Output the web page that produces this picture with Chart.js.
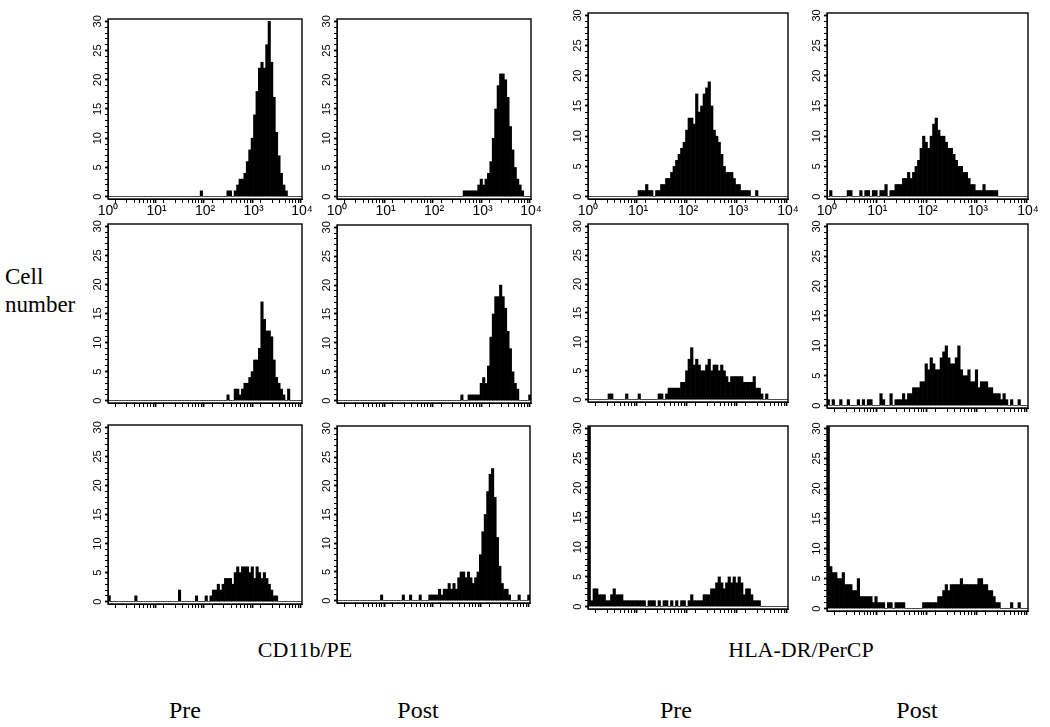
<!DOCTYPE html>
<html><head><meta charset="utf-8">
<script src="https://cdn.jsdelivr.net/npm/chart.js@4/dist/chart.umd.min.js"></script>
<style>
html,body{margin:0;padding:0;background:#fff;}
body{width:1050px;height:727px;position:relative;overflow:hidden;}
canvas{position:absolute;}
.lbl{position:absolute;font-family:"Liberation Serif","Times New Roman",serif;color:#000;white-space:nowrap;font-size:22px;line-height:26px;}
.c{transform:translate(-50%,-50%);}
.big{font-size:24px;}
</style></head><body>
<div class="lbl" style="left:5px;top:263px;font-size:23px;line-height:28px">Cell<br>number</div>
<div class="lbl c" style="left:305px;top:650px;">CD11b/PE</div>
<div class="lbl c" style="left:801px;top:650px;">HLA-DR/PerCP</div>
<div class="lbl c big" style="left:185px;top:710px;">Pre</div>
<div class="lbl c big" style="left:418px;top:710px;">Post</div>
<div class="lbl c big" style="left:676px;top:710px;">Pre</div>
<div class="lbl c big" style="left:917px;top:710px;">Post</div>
<script>
// ---- data: cell counts per log-channel bin (80 bins, 0.05 decade each, 10^0..10^4) ----
const binLabels = Array.from({length: 80}, (_, i) => String(i));

const cd11bPreRow1 = [
 0,0,0,0,0,0,0,0,0,0, 0,0,0,0,0,0,0,0,0,0, 0,0,0,0,0,0,0,0,0,0, 0,0,0,0,0,0,0,0,1,0,
 0,0,0,0,0,0,0,0,0,1, 1,0,1,2,3,3,4,6,8,10, 14,18,22,23,22,26,30,23,17,11, 7,4,2,1,0,0,0,0,0,0];
const cd11bPostRow1 = [
 0,0,0,0,0,0,0,0,0,0, 0,0,0,0,0,0,0,0,0,0, 0,0,0,0,0,0,0,0,0,0, 0,0,0,0,0,0,0,0,0,0,
 0,0,0,0,0,0,0,0,0,0, 0,0,1,1,1,1,1,1,2,3, 2,3,4,6,10,15,19,21,21,20, 17,12,8,5,3,2,1,0,0,0];
const hladrPreRow1 = [
 0,0,0,0,0,0,0,0,0,0, 0,0,0,0,0,0,0,0,0,0, 1,1,1,2,1,1,0,1,1,2, 2,3,3,4,5,6,7,8,9,11,
 13,13,12,17,14,15,17,18,19,15, 11,10,9,7,5,4,4,4,3,2, 2,1,1,1,1,0,0,1,0,0, 0,0,0,0,0,0,0,0,0,0];
const hladrPostRow1 = [
 0,1,0,0,0,0,0,0,1,1, 0,0,0,1,0,1,1,0,1,1, 0,1,1,2,0,1,1,2,2,2, 3,3,4,3,4,5,6,8,10,9,
 8,10,12,13,11,10,10,9,8,8, 7,6,5,5,4,4,3,2,2,1, 1,1,2,1,1,1,1,1,0,0, 0,0,0,0,0,0,0,0,0,0];

const cd11bPreRow2 = [
 0,0,0,0,0,0,0,0,0,0, 0,0,0,0,0,0,0,0,0,0, 0,0,0,0,0,0,0,0,0,0, 0,0,0,0,0,0,0,0,0,0,
 0,0,0,0,0,0,0,0,0,1, 0,0,2,2,1,2,3,3,4,5, 7,7,9,17,14,12,12,11,7,4, 3,2,1,0,2,0,0,0,0,0];
const cd11bPostRow2 = [
 0,0,0,0,0,0,0,0,0,0, 0,0,0,0,0,0,0,0,0,0, 0,0,0,0,0,0,0,0,0,0, 0,0,0,0,0,0,0,0,0,0,
 0,0,0,0,0,0,0,0,0,0, 0,1,0,0,1,1,1,1,1,3, 4,3,6,11,15,18,18,20,18,16, 12,9,5,3,2,0,0,0,0,1];
const hladrPreRow2 = [
 0,0,0,0,0,0,0,0,1,1, 0,0,0,0,0,1,0,0,0,0, 1,0,0,0,0,0,0,0,1,1, 0,1,2,2,2,2,2,3,3,5,
 7,9,6,7,6,5,5,6,7,5, 6,6,5,6,5,4,3,4,4,4, 4,4,3,3,3,3,4,2,2,1, 0,1,0,0,0,0,0,0,0,0];
const hladrPostRow2 = [
 1,0,1,0,0,1,0,0,1,0, 0,0,1,0,1,0,1,1,0,0, 0,2,1,0,0,2,0,1,1,1, 2,1,2,2,3,3,3,4,4,7,
 6,8,7,6,6,8,9,10,8,7, 7,8,10,6,5,5,6,4,4,6, 3,4,4,4,3,3,2,2,2,1, 2,1,0,1,0,0,1,0,0,0];

const cd11bPreRow3 = [
 1,0,0,0,0,0,0,0,0,0, 0,1,0,0,0,0,0,0,0,0, 0,0,0,0,0,0,0,0,0,2, 0,0,0,0,0,0,1,0,0,0,
 1,0,1,2,2,3,2,3,4,4, 4,3,5,6,5,6,6,6,5,6, 4,6,5,4,5,4,3,2,1,1, 0,0,0,0,0,0,0,0,0,0];
const cd11bPostRow3 = [
 0,0,0,0,0,0,0,0,0,0, 0,0,0,0,0,0,0,0,1,0, 0,0,0,0,0,0,0,1,0,0, 1,0,0,0,1,0,0,0,1,1,
 1,1,2,1,2,2,3,2,3,2, 4,5,5,4,5,4,3,4,5,8, 12,15,19,22,23,18,11,6,3,2, 2,1,0,0,0,1,0,0,0,1];
const hladrPreRow3 = [
 31,1,3,3,2,2,2,1,1,2, 3,2,2,2,1,1,1,1,1,1, 1,1,1,0,1,1,1,0,1,0, 1,1,0,1,0,1,0,1,1,0,
 1,2,1,1,1,1,2,2,2,3, 3,4,5,4,3,4,5,4,5,4, 5,4,2,3,3,2,1,1,1,0, 0,0,0,0,0,0,0,0,0,0];
const hladrPostRow3 = [
 31,7,6,6,5,5,6,4,4,4, 3,3,5,2,2,2,2,2,1,2, 1,1,1,0,1,1,0,1,1,1, 1,0,0,0,0,0,0,0,1,1,
 1,1,1,1,2,2,3,4,3,4, 4,4,4,5,4,4,4,4,4,4, 5,5,4,4,3,3,2,1,1,0, 0,0,0,1,0,0,1,0,0,0];

// ---- tick labels ----
const xTickValues = [1,2,3,4,5,6,7,8,9,10,20,30,40,50,60,70,80,90,100,200,300,400,500,600,700,800,900,
                     1000,2000,3000,4000,5000,6000,7000,8000,9000,10000];
const xDecadeLabels = {1:'10⁰', 10:'10¹', 100:'10²', 1000:'10³', 10000:'10⁴'};
const yTickValues = [0,1,2,3,4,5,6,7,8,9,10,11,12,13,14,15,16,17,18,19,20,21,22,23,24,25,26,27,28,29,30];
const yLabelValues = [0,5,10,15,20,25,30];

// ---- layout (frame boxes in page pixels: left, top, right, bottom) ----
const panels = [
  {data: cd11bPreRow1,  frame: [108, 19, 302, 199], xlabels: true},
  {data: cd11bPostRow1, frame: [337, 19, 531, 199], xlabels: true},
  {data: hladrPreRow1,  frame: [588, 13, 788, 199], xlabels: true},
  {data: hladrPostRow1, frame: [827, 13, 1028, 199], xlabels: true},
  {data: cd11bPreRow2,  frame: [108, 224, 302, 403], xlabels: false},
  {data: cd11bPostRow2, frame: [337, 225, 531, 403], xlabels: false},
  {data: hladrPreRow2,  frame: [588, 224, 788, 402], xlabels: false},
  {data: hladrPostRow2, frame: [827, 224, 1028, 408], xlabels: false},
  {data: cd11bPreRow3,  frame: [108, 425, 302, 604], xlabels: false},
  {data: cd11bPostRow3, frame: [337, 426, 530, 603], xlabels: false},
  {data: hladrPreRow3,  frame: [588, 426, 788, 609], xlabels: false},
  {data: hladrPostRow3, frame: [827, 426, 1028, 611], xlabels: false},
];

const PADL = 30, PADR = 14, PADT = 8, XH = 22;
const AXFONT = "'Liberation Sans', Arial, sans-serif";

const framePlugin = {
  id: 'frame',
  afterDraw(chart) {
    const a = chart.chartArea, c = chart.ctx;
    c.save();
    c.strokeStyle = '#000';
    c.lineWidth = 1.4;
    c.strokeRect(a.left, a.top, a.right - a.left, a.bottom - a.top);
    c.restore();
  }
};

panels.forEach(p => {
  const [l, t, r, b] = p.frame;
  const cv = document.createElement('canvas');
  const w = (r - l) + PADL + PADR, h = (b - t) + PADT + XH;
  cv.width = w; cv.height = h;
  cv.style.left = (l - PADL) + 'px';
  cv.style.top = (t - PADT) + 'px';
  cv.style.width = w + 'px'; cv.style.height = h + 'px';
  document.body.appendChild(cv);
  new Chart(cv, {
    type: 'bar',
    data: {
      labels: binLabels,
      datasets: [{
        data: p.data, backgroundColor: '#000', borderWidth: 0,
        barPercentage: 1, categoryPercentage: 1, xAxisID: 'x', yAxisID: 'y'
      }]
    },
    options: {
      responsive: false, animation: false, devicePixelRatio: 1, events: [],
      layout: {padding: {left: 0, right: PADR, top: PADT, bottom: 0}},
      plugins: {legend: {display: false}, tooltip: {enabled: false}},
      scales: {
        x: {type: 'category', display: false, offset: true},
        xl: {
          type: 'logarithmic', position: 'bottom', min: 1, max: 10000,
          afterBuildTicks: s => { s.ticks = xTickValues.map(v => ({value: v, major: v in xDecadeLabels})); },
          afterFit: s => { s.height = XH; s.paddingLeft = 0; s.paddingRight = 0; },
          grid: {drawOnChartArea: false, drawTicks: true, tickLength: 4, color: '#000',
                 tickWidth: c => (c.tick && c.tick.major) ? 1.8 : 1},
          border: {display: true, color: '#000', width: 1},
          ticks: {display: p.xlabels, autoSkip: false, maxRotation: 0, minRotation: 0, padding: 0,
                  color: '#000', font: {family: AXFONT, size: 14},
                  callback: v => xDecadeLabels[v] || ''}
        },
        y: {
          type: 'linear', position: 'left', min: -0.4, max: 30.4,
          afterBuildTicks: s => { s.ticks = yTickValues.map(v => ({value: v, major: yLabelValues.includes(v)})); },
          afterFit: s => { s.width = PADL; s.paddingTop = 0; s.paddingBottom = 0; },
          grid: {drawOnChartArea: false, drawTicks: true, tickLength: 3, color: '#000',
                 tickWidth: c => (c.tick && c.tick.major) ? 1.8 : 1},
          border: {display: true, color: '#000', width: 1},
          ticks: {autoSkip: false, minRotation: 90, maxRotation: 90, crossAlign: 'center', padding: 1,
                  color: '#000', font: {family: AXFONT, size: 11},
                  callback: v => yLabelValues.includes(v) ? String(v) : ''}
        }
      }
    },
    plugins: [framePlugin]
  });
});
</script>
</body></html>
